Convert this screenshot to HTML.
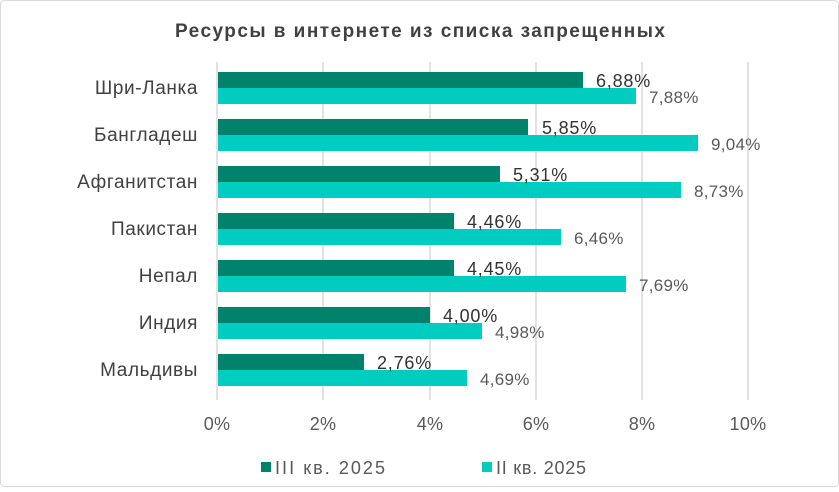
<!DOCTYPE html><html><head><meta charset="utf-8"><style>
body{margin:0;background:#fff}
</style></head><body>
<svg width="839" height="487" xmlns="http://www.w3.org/2000/svg" font-family="Liberation Sans, sans-serif">
<rect x="0.5" y="0.5" width="838" height="486" rx="4" fill="#fff" stroke="#d9d9d9"/>
<text x="175" y="37" font-size="19" font-weight="bold" fill="#404040" textLength="490" lengthAdjust="spacing">Ресурсы в интернете из списка запрещенных</text>
<g stroke="#d9d9d9" stroke-width="1.5">
<line x1="217" y1="62" x2="217" y2="400"/><line x1="323" y1="62" x2="323" y2="400"/><line x1="430" y1="62" x2="430" y2="400"/><line x1="536" y1="62" x2="536" y2="400"/><line x1="642" y1="62" x2="642" y2="400"/><line x1="748" y1="62" x2="748" y2="400"/>
</g>
<g font-size="19" fill="#404040" text-anchor="end" letter-spacing="0.6">
<text x="198" y="94">Шри-Ланка</text><text x="198" y="141">Бангладеш</text><text x="198" y="188">Афганитстан</text><text x="198" y="235">Пакистан</text><text x="198" y="282">Непал</text><text x="198" y="329">Индия</text><text x="198" y="376">Мальдивы</text>
</g>
<g fill="#00826c">
<rect x="218" y="72" width="365" height="16"/><rect x="218" y="119" width="310" height="16"/><rect x="218" y="166" width="282" height="16"/><rect x="218" y="213" width="236" height="16"/><rect x="218" y="260" width="236" height="16"/><rect x="218" y="307" width="212" height="16"/><rect x="218" y="354" width="146" height="16"/>
</g>
<g fill="#00ccc0">
<rect x="218" y="88" width="418" height="16"/><rect x="218" y="135" width="480" height="16"/><rect x="218" y="182" width="463" height="16"/><rect x="218" y="229" width="343" height="16"/><rect x="218" y="276" width="408" height="16"/><rect x="218" y="323" width="264" height="16"/><rect x="218" y="370" width="249" height="16"/>
</g>
<g font-size="18" fill="#333" letter-spacing="0.8">
<text x="596" y="87">6,88%</text><text x="542" y="134">5,85%</text><text x="513" y="181">5,31%</text><text x="467" y="228">4,46%</text><text x="467" y="275">4,45%</text><text x="443" y="322">4,00%</text><text x="377" y="369">2,76%</text>
</g>
<g font-size="17" fill="#595959" letter-spacing="0.3">
<text x="649" y="103">7,88%</text><text x="711" y="150">9,04%</text><text x="694" y="197">8,73%</text><text x="574" y="244">6,46%</text><text x="639" y="291">7,69%</text><text x="495" y="338">4,98%</text><text x="480" y="385">4,69%</text>
</g>
<g font-size="18" fill="#595959" text-anchor="middle" letter-spacing="0.3">
<text x="217" y="430">0%</text><text x="323" y="430">2%</text><text x="430" y="430">4%</text><text x="536" y="430">6%</text><text x="642" y="430">8%</text><text x="748" y="430">10%</text>
</g>
<rect x="261" y="462" width="10" height="10" fill="#00826c"/>
<text x="275" y="474" font-size="18" fill="#595959" textLength="110" lengthAdjust="spacing">III кв. 2025</text>
<rect x="482" y="462" width="10" height="10" fill="#00ccc0"/>
<text x="496" y="474" font-size="18" fill="#595959" textLength="90" lengthAdjust="spacing">II кв. 2025</text>
</svg>
</body></html>
